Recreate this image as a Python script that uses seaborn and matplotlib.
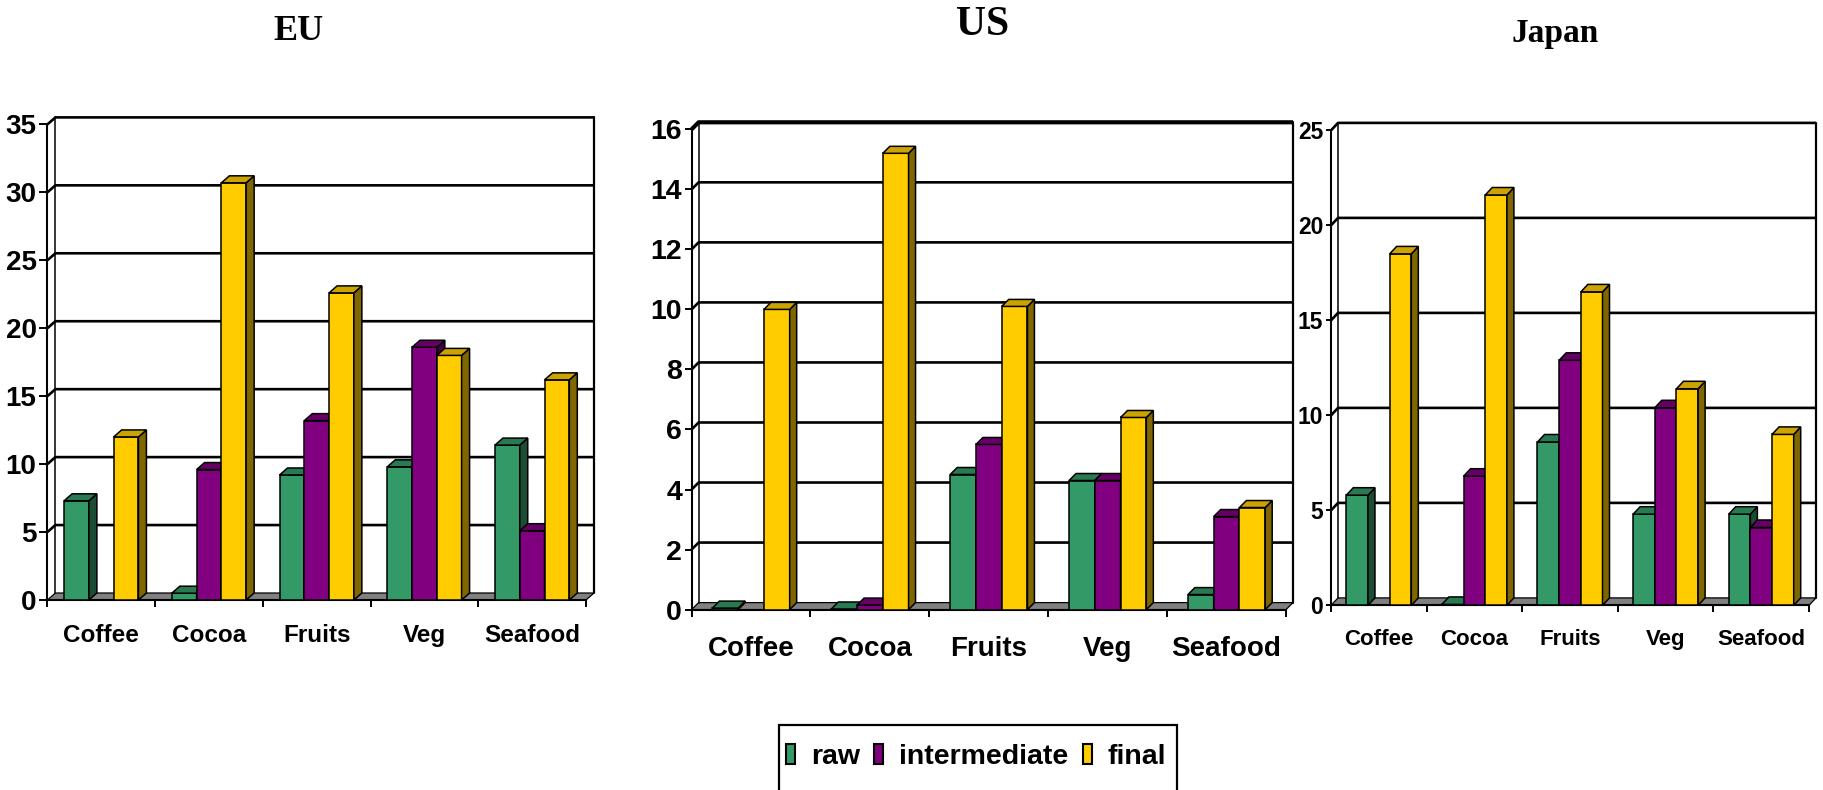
import numpy as np
import pandas as pd
import matplotlib
matplotlib.use("Agg")
import matplotlib.pyplot as plt
from matplotlib.patches import Polygon, Patch, Rectangle
from matplotlib import font_manager as fm
from matplotlib import colors as mcolors
import seaborn as sns

# ---- data -------------------------------------------------------------
categories = ["Coffee", "Cocoa", "Fruits", "Veg", "Seafood"]
stages = ["raw", "intermediate", "final"]

eu_raw = [7.3, 0.5, 9.2, 9.8, 11.4]
eu_intermediate = [np.nan, 9.6, 13.2, 18.6, 5.1]
eu_final = [12.0, 30.7, 22.6, 18.0, 16.2]

us_raw = [0.05, 0.02, 4.5, 4.3, 0.5]
us_intermediate = [np.nan, 0.15, 5.5, 4.3, 3.1]
us_final = [10.0, 15.2, 10.1, 6.4, 3.4]

jp_raw = [5.8, 0.05, 8.6, 4.8, 4.8]
jp_intermediate = [np.nan, 6.8, 12.9, 10.4, 4.1]
jp_final = [18.5, 21.6, 16.5, 11.4, 9.0]

eu_ticks = [0, 5, 10, 15, 20, 25, 30, 35]
us_ticks = [0, 2, 4, 6, 8, 10, 12, 14, 16]
jp_ticks = [0, 5, 10, 15, 20, 25]

titles = ["EU", "US", "Japan"]
stage_colors = ["#339966", "#800080", "#FFCC00"]

# ---- style ------------------------------------------------------------
sns.set_style("white")
plt.rcParams["font.family"] = ["Liberation Sans", "DejaVu Sans"]
plt.rcParams["font.weight"] = "bold"
for key in ["text.color", "axes.labelcolor", "xtick.color", "ytick.color",
            "xtick.labelcolor", "ytick.labelcolor"]:
    plt.rcParams[key] = "black"

installed = {f.name for f in fm.fontManager.ttflist}
has_narrow = "Liberation Sans Narrow" in installed
legend_family = ["Liberation Sans Narrow", "Liberation Sans"] if has_narrow else ["Liberation Sans"]
legend_size = 25 if has_narrow else 20.5

W, H = 1823, 790
fig = plt.figure(figsize=(W / 100, H / 100), dpi=100)
fig.patch.set_facecolor("white")


def shade(color, k):
    r, g, b, a = mcolors.to_rgba(color)
    return (r * k, g * k, b * k, 1.0)


def draw_panel(rect_px, raw, inter, final, ticks, depth, bar_width,
               tick_size, cat_size, cat_pad, tick_len, top_lw):
    x0, x1, y_bottom, y_top = rect_px
    ax = fig.add_axes([x0 / W, 1 - y_bottom / H, (x1 - x0) / W, (y_bottom - y_top) / H])
    df = pd.DataFrame({
        "category": categories * 3,
        "stage": np.repeat(stages, len(categories)),
        "value": list(raw) + list(inter) + list(final),
    }).dropna()
    sns.barplot(data=df, x="category", y="value", hue="stage", order=categories,
                hue_order=stages, palette=stage_colors, saturation=1, width=bar_width,
                gap=0, edgecolor="black", linewidth=1.1, errorbar=None, legend=False, ax=ax)
    bars = [p for p in ax.patches]
    ymax = ticks[-1]
    ax.set_xlim(-0.5, len(categories) - 0.5)
    ax.set_ylim(0, ymax)
    ax.set_facecolor("none")
    ax.set_xlabel("")
    ax.set_ylabel("")

    # depth offset converted from pixels to data units
    ddx = depth[0] * len(categories) / ax.bbox.width
    ddy = depth[1] * ymax / ax.bbox.height
    xl, xr = -0.5, len(categories) - 0.5

    # floor
    ax.add_patch(Polygon([(xl, 0), (xr, 0), (xr + ddx, ddy), (xl + ddx, ddy)],
                         closed=True, facecolor="#808080", edgecolor="black",
                         linewidth=0.9, zorder=1.2, clip_on=False))
    # back wall gridlines, running across the side wall
    for t in ticks[1:]:
        lw = top_lw if t == ymax else 1.9
        ax.plot([xl, xl + ddx, xr + ddx], [t, t + ddy, t + ddy], color="black",
                linewidth=lw, zorder=1.5, clip_on=False, solid_capstyle="butt")
    # back wall edges
    ax.plot([xl + ddx, xl + ddx], [ddy, ymax + ddy], color="black", linewidth=1.1,
            zorder=1.5, clip_on=False)
    ax.plot([xr + ddx, xr + ddx], [ddy, ymax + ddy], color="black", linewidth=1.6,
            zorder=1.5, clip_on=False)

    # 3D faces for each bar, drawn left to right
    bars = [p for p in bars if np.isfinite(p.get_height())]
    bars.sort(key=lambda p: p.get_x())
    for i, p in enumerate(bars):
        z = 3 + i * 0.01
        p.set_zorder(z)
        p.set_clip_on(False)
        bx, bw, bh = p.get_x(), p.get_width(), p.get_height()
        fc = p.get_facecolor()
        side = Polygon([(bx + bw, 0), (bx + bw + ddx, ddy), (bx + bw + ddx, bh + ddy),
                        (bx + bw, bh)], closed=True, facecolor=shade(fc, 0.5),
                       edgecolor="black", linewidth=1.1, zorder=z + 0.001, clip_on=False)
        top = Polygon([(bx, bh), (bx + ddx, bh + ddy), (bx + bw + ddx, bh + ddy),
                       (bx + bw, bh)], closed=True, facecolor=shade(fc, 0.8),
                      edgecolor="black", linewidth=1.1, zorder=z + 0.002, clip_on=False)
        ax.add_patch(side)
        ax.add_patch(top)

    # axes lines and ticks
    for s in ["top", "right"]:
        ax.spines[s].set_visible(False)
    for s in ["left", "bottom"]:
        ax.spines[s].set_linewidth(1.5)
        ax.spines[s].set_color("black")
        ax.spines[s].set_zorder(2.5)
    ax.set_yticks(ticks)
    ax.set_yticklabels([str(t) for t in ticks])
    ax.tick_params(axis="y", direction="out", length=tick_len, width=1.4, pad=2,
                   labelsize=tick_size, colors="black", left=True)
    ax.set_xticks(range(len(categories)))
    ax.set_xticklabels(categories)
    ax.tick_params(axis="x", which="major", length=0, pad=cat_pad, labelsize=cat_size,
                   colors="black")
    ax.set_xticks(np.arange(-0.5, len(categories), 1.0), minor=True)
    ax.tick_params(axis="x", which="minor", direction="out", length=5, width=1.4,
                   bottom=True, colors="black")
    for lab in ax.get_xticklabels() + ax.get_yticklabels():
        lab.set_fontweight("bold")
        lab.set_color("black")
    ax.grid(False)
    return ax


draw_panel((47.4, 586, 600, 124.4), eu_raw, eu_intermediate, eu_final, eu_ticks,
           (8, 7), 0.69, 20, 17.5, 17, 5.8, 1.9)
draw_panel((691.6, 1286, 609.6, 129.3), us_raw, us_intermediate, us_final, us_ticks,
           (7, 7), 0.65, 20.5, 20, 19, 5.0, 3.0)
draw_panel((1331, 1809, 605.4, 130.4), jp_raw, jp_intermediate, jp_final, jp_ticks,
           (7, 7.5), 0.68, 16.5, 16, 17, 3.6, 1.9)

# panel titles
title_font = dict(family=["Liberation Serif", "DejaVu Serif"], weight="bold")
for name, (tx, ty), size in zip(titles, [(299, 40), (983, 35), (1555, 42)], [26, 30, 24]):
    fig.text(tx / W, 1 - ty / H, name, ha="center", va="baseline", fontsize=size,
             color="black", **title_font)

# shared legend, with its box running off the lower edge
fig.patches.append(Rectangle((779 / W, -0.02), (1177 - 779) / W, (790 - 725) / H + 0.02,
                             transform=fig.transFigure, facecolor="white",
                             edgecolor="black", linewidth=1.6, zorder=0.5))
handles = [Patch(facecolor=c, edgecolor="black", linewidth=1.5) for c in stage_colors]
leg = fig.legend(handles, stages, loc="center", bbox_to_anchor=(976 / W, 1 - 757 / H),
                 ncol=3, frameon=False,
                 prop=fm.FontProperties(family=legend_family, weight="bold", size=legend_size),
                 handlelength=0.33, handleheight=0.68, handletextpad=0.55,
                 columnspacing=0.5, borderpad=0.2, borderaxespad=0)
for t in leg.get_texts():
    t.set_color("black")

fig.savefig("out.png", dpi=100, facecolor="white")
